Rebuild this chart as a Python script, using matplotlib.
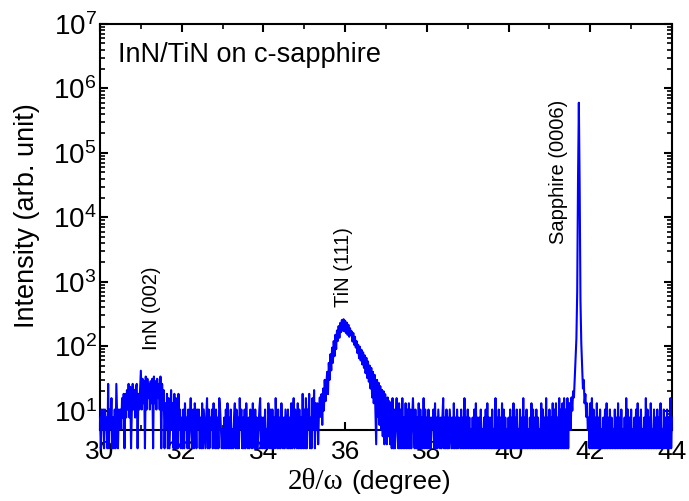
import numpy as np
import matplotlib
matplotlib.use("Agg")
import matplotlib.pyplot as plt
from matplotlib.ticker import MultipleLocator, LogLocator, NullFormatter

plt.rcParams['font.family'] = ['Liberation Sans', 'DejaVu Sans']
plt.rcParams['mathtext.fontset'] = 'custom'
plt.rcParams['mathtext.rm'] = 'Liberation Sans'
plt.rcParams['mathtext.it'] = 'Liberation Sans:italic'
plt.rcParams['mathtext.bf'] = 'Liberation Sans:bold'

# background counts: one base-36 digit per 0.02 deg step, times count_step
count_step = 2.6
bg_30_35 = ("3142414231a142613141a3142" "4263717384a3914a4839a1748"
            "g4c5b1d4c6a4b5c1d5b4c6a4d" "1a48152716138251716317241"
            "3141523141" "3621415314" "2413151421" "3614132415" "2141316421"
            "2131415131" "4121351413" "1624131415" "2131431521" "4131246131"
            "3141215314" "1413162141" "3152131421" "4131513614" "2151413171"
            "416142713162815")
bg_37_41 = ("51614136215" "14161315141" "51413621413" "15141316141"
            "3141313241" "5131421313" "6131413142" "1315131413" "2141316131"
            "4131213141" "5131314121" "3141513131" "4121613141" "3151413121"
            "3141315131" "4121413161" "3141213151" "4131413121" "5141316131"
            "4131514151" "3161415161" "41615")
bg_42_44 = ("31"
            "5161413151" "3141213141" "5131413121" "4131513141" "2131614131"
            "4121314151" "3141213161" "4131512141" "3141315121" "4131413161"
            "3")

# TiN (111) region, 35.30 - 37.10 deg
tin_111 = [5, 13, 3, 10, 16, 8, 18, 6, 22, 10,
           30, 14, 26, 40, 18, 55, 30, 75, 42, 95,
           55, 120, 70, 150, 90, 175, 120, 205, 135, 230,
           165, 255, 175, 262, 170, 248, 160, 232, 150, 215,
           140, 190, 150, 170, 118, 160, 105, 140, 95, 120,
           78, 105, 65, 98, 60, 88, 52, 80, 46, 72,
           38, 66, 32, 58, 28, 50, 22, 46, 16, 40,
           13, 36, 10, 3, 30, 8, 27, 6, 24, 5,
           21, 4, 20, 3, 18, 5, 3, 16, 4, 14,
           3]
# sapphire (0006) region, 41.50 - 41.94 deg
sapphire_0006 = [13, 5, 16, 10, 20, 16, 32, 60, 130, 700, 40000, 600000,
                 30000, 500, 110, 50, 22, 30, 13, 18, 8, 13, 5]


def digits(s):
    return [int(c, 36) * count_step for c in s]


segments = [(30.00, 35.28, digits(bg_30_35)),
            (35.30, 37.10, tin_111),
            (37.12, 41.48, digits(bg_37_41)),
            (41.50, 41.94, sapphire_0006),
            (41.96, 44.00, digits(bg_42_44))]

two_theta = np.concatenate([np.linspace(a, b, len(v)) for a, b, v in segments])
intensity = np.concatenate([np.asarray(v, float) for a, b, v in segments])

fig = plt.figure(figsize=(6.89, 5.01), dpi=100)
ax = fig.add_axes([100/689, 71/501, 572/689, 406/501])

ax.plot(two_theta, intensity, color='#0000ff', lw=1.5, clip_on=False, zorder=3)

ax.set_yscale('log')
ax.set_xlim(30, 44)
ax.set_ylim(5, 1e7)
ax.xaxis.set_major_locator(MultipleLocator(2))
ax.xaxis.set_minor_locator(MultipleLocator(1))
ax.yaxis.set_major_locator(LogLocator(base=10, numticks=12))
ax.yaxis.set_minor_locator(LogLocator(base=10, subs=np.arange(2, 10), numticks=12))
ax.yaxis.set_minor_formatter(NullFormatter())

for sp in ax.spines.values():
    sp.set_linewidth(1.5)
ax.tick_params(which='both', direction='in', top=True, right=True)
ax.tick_params(which='major', length=6, width=1.5)
ax.tick_params(which='minor', length=3.5, width=1.2)
ax.tick_params(axis='x', labelsize=19, pad=7)
ax.tick_params(axis='y', labelsize=20, pad=2.5)

ax.text(0.031, 0.955, "InN/TiN on c-sapphire", transform=ax.transAxes,
        ha='left', va='top', fontsize=19.5)

ax.text(31.25, 86, "InN (002)", rotation=90, ha='center', va='bottom', fontsize=14.5)
ax.text(35.96, 400, "TiN (111)", rotation=90, ha='center', va='bottom', fontsize=14.5)
ax.text(41.23, 3900, "Sapphire (0006)", rotation=90, ha='center', va='bottom', fontsize=14.5)

fig.text(343/689, 1 - 489/501, "2θ/ω", ha='right', va='baseline',
         family='Liberation Serif', fontsize=21)
fig.text(351/689, 1 - 489/501, "(degree)", ha='left', va='baseline', fontsize=19)
fig.text(27/689, 1 - 216/501, "Intensity (arb. unit)", rotation=90,
         ha='center', va='center', fontsize=19.5)

fig.savefig("out.png", dpi=100)
